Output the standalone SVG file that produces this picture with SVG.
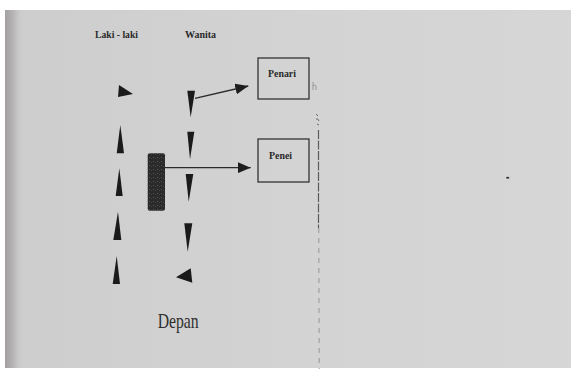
<svg xmlns="http://www.w3.org/2000/svg" width="571" height="369" viewBox="0 0 571 369">
<defs>
<linearGradient id="paper" x1="0" y1="0" x2="1" y2="0">
<stop offset="0" stop-color="#cdcdcd"/>
<stop offset="0.5" stop-color="#d3d3d3"/>
<stop offset="1" stop-color="#d6d6d6"/>
</linearGradient>
<linearGradient id="edge" x1="0" y1="0" x2="1" y2="0">
<stop offset="0" stop-color="#a39fa0"/>
<stop offset="0.5" stop-color="#b9b7b8"/>
<stop offset="1" stop-color="#cdcdcd" stop-opacity="0"/>
</linearGradient>
<marker id="ah" markerWidth="13" markerHeight="11" refX="13" refY="5.5" orient="auto" markerUnits="userSpaceOnUse">
<path d="M0,0 L13,5.5 L0,11 Z" fill="#1e1e1e"/>
</marker>
<pattern id="speck" width="4" height="4" patternUnits="userSpaceOnUse">
<rect width="4" height="4" fill="#2a2a2a"/>
<rect x="1" y="1" width="1" height="1" fill="#555"/>
<rect x="3" y="2" width="1" height="1" fill="#444"/>
</pattern>
</defs>
<style>
.lbl{font-family:"Liberation Serif","Times New Roman",serif;font-weight:bold;font-size:11px;fill:#2a2a2a}
.box{fill:none;stroke:#333;stroke-width:1.3}
.tri{fill:#1a1a1a}
.con{stroke:#2a2a2a;stroke-width:1.3;fill:none}
</style>
<rect width="571" height="369" fill="#ffffff"/>
<rect x="5" y="10" width="566" height="358" fill="url(#paper)"/>
<rect x="5" y="10" width="18" height="358" fill="url(#edge)"/>
<text class="lbl" x="95" y="37.5" textLength="43" lengthAdjust="spacingAndGlyphs">Laki - laki</text>
<text class="lbl" x="185" y="38" textLength="31" lengthAdjust="spacingAndGlyphs">Wanita</text>
<g id="laki-laki">
<polygon class="tri" points="119,85 133,94 118,97"/>
<polygon class="tri" points="120.3,125 124,153.3 116.7,153.3"/>
<polygon class="tri" points="119.3,168.3 122.7,196 115.7,196"/>
<polygon class="tri" points="118,211.7 121.3,240 113.3,240"/>
<polygon class="tri" points="116.7,256 120,284 112.7,284"/>
</g>
<g id="wanita">
<polygon class="tri" points="187.3,90.7 195,90.7 190.7,117.3"/>
<polygon class="tri" points="187.3,131.7 194.3,131.7 190,159.3"/>
<polygon class="tri" points="185.7,174 193.3,174 188.7,201.7"/>
<polygon class="tri" points="184.3,223.3 192.3,223.3 187.7,251.7"/>
<polygon class="tri" points="176,277.3 190.7,268.3 192.3,282.7"/>
</g>
<g id="block">
<rect x="147.7" y="153.3" width="17.3" height="57.4" rx="2" fill="url(#speck)"/>
</g>
<g id="penari">
<rect class="box" x="258" y="58" width="51" height="41"/>
<text class="lbl" x="268" y="76.5" textLength="28" lengthAdjust="spacingAndGlyphs">Penari</text>
</g>
<g id="penei">
<rect class="box" x="258" y="139" width="51" height="43"/>
<text class="lbl" x="269" y="158.5" textLength="23" lengthAdjust="spacingAndGlyphs">Penei</text>
</g>
<g id="connectors">
<line class="con" x1="195" y1="98.3" x2="248.3" y2="86" marker-end="url(#ah)"/>
<line class="con" x1="165" y1="167.7" x2="250.7" y2="167.7" marker-end="url(#ah)"/>
</g>
<text x="157.7" y="328.3" font-family="'Liberation Serif','Times New Roman',serif" font-size="21" fill="#2e2e2e" textLength="41" lengthAdjust="spacingAndGlyphs">Depan</text>
<g id="page-marks">
<line x1="318.5" y1="130" x2="318.5" y2="228" stroke="#5a5a5a" stroke-width="1.2" stroke-dasharray="9,1.5"/>
<line x1="318.8" y1="228" x2="319.2" y2="369" stroke="#8f8f8f" stroke-width="0.9" stroke-dasharray="5,5"/>
<path d="M313,82 L313,90 M313,86 Q315,84 316,86 L316,90" stroke="#8a8a8a" stroke-width="0.8" fill="none"/>
<path d="M316,114 L318,116 M316,119 Q318,118 319,121 M317,124 L319,125" stroke="#6a6a6a" stroke-width="1" fill="none"/>
<ellipse cx="507.7" cy="177.7" rx="1.6" ry="1" fill="#333"/>
</g>
</svg>
